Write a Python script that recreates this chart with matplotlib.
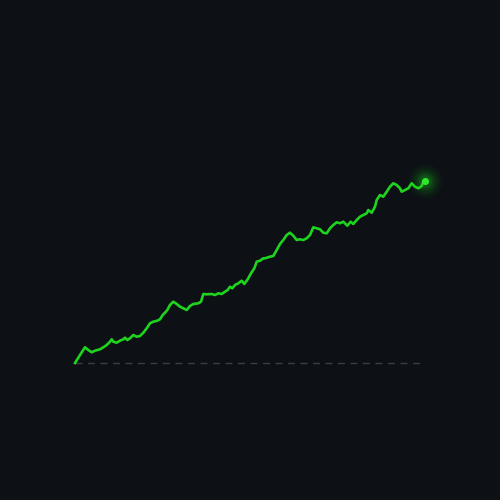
import matplotlib
matplotlib.use("Agg")
import matplotlib.pyplot as plt

# day offsets and cumulative values
days = [0, 5, 10, 13.3, 16.7, 20, 25, 28.3, 31.7, 35, 36.7, 38.3, 41.7, 45, 48.3, 50, 52.3, 55, 58.3, 61.7,
        65, 68.3, 71.7, 75, 78.3, 82.3, 85, 87.7, 90, 92.3,
        95, 98.3, 101.7, 105, 108.3, 111.7, 115, 118.3, 123.3, 126, 128.3, 131.7, 136.7, 140, 143.3, 146.7,
        150, 152.7, 155, 157.3, 160, 163.3, 166.7, 169.3, 172.7, 176, 179.3, 181.7, 185, 188.3,
        190, 195, 198.3, 201.7, 205, 208.3, 211.7, 215, 218.3, 221.7, 225, 228.3, 231.7, 235, 238.3, 241.7,
        245, 248.3, 251.7, 255, 258.3, 261.7, 265, 268.3, 272.3,
        275.7, 278.3, 281.7, 285, 288.3, 291.7, 293.3, 296.7, 300, 301.7, 305, 308.3, 311.7, 315, 318.3,
        321.7, 325, 326.7, 330, 333.3, 336.7, 340, 343.3, 346.7, 348.3, 350]
values = [0, 8, 15.7, 13, 10.7, 12.3, 13.7, 15.7, 18, 21.3, 23.7, 21.3, 20.3, 22.3, 23.7, 25.3, 23, 24.7, 28, 26.3,
          27, 30.3, 34.7, 39.7, 41.3, 42.3, 43.7, 48, 50.3, 53,
          58, 61.3, 59, 56.3, 54.7, 53, 57, 59, 59.7, 61.3, 69, 68.7, 69, 68, 69.7, 69,
          71.3, 73, 76.3, 74.7, 78, 79.7, 82.3, 79, 83.7, 89.7, 94.7, 101.3, 102.3, 104.7,
          104.7, 106.3, 107, 113, 119, 123, 128, 130.3, 127.3, 123, 123.7, 123, 124.7, 128, 135.7, 134.7,
          133.7, 130.3, 129.7, 134.7, 138, 140.7, 139.7, 141.3, 137.3,
          141.3, 139, 143, 146.3, 148, 149.7, 153, 150.3, 156.3, 163, 168, 166.3, 171.3, 176.3, 179.7, 178,
          174.7, 171.3, 173, 174.7, 179.7, 176.3, 174.7, 177, 181.3, 182.5]

bg = "#0d1014"
green = "#1ed41e"

fig = plt.figure(figsize=(5, 5), dpi=100, facecolor=bg)
ax = fig.add_axes([0, 0, 1, 1], facecolor=bg)
ax.set_xlim(-75, 425)
ax.set_ylim(-137, 363)
ax.axis("off")

ax.plot([days[0], days[-1]], [0, 0], color="#3a3f46", lw=1.0, ls=(0, (5, 4)), zorder=1)
ax.plot(days, values, color=green, lw=1.9, solid_joinstyle="round", zorder=3)

# glowing end point
for s, a in [(600, 0.04), (420, 0.05), (280, 0.07), (170, 0.1), (90, 0.15)]:
    ax.scatter([days[-1]], [values[-1]], s=s, color=green, alpha=a, lw=0, zorder=4)
ax.scatter([days[-1]], [values[-1]], s=26, color="#2ee82e", lw=0, zorder=5)

fig.savefig("out.png", dpi=100, facecolor=bg)
